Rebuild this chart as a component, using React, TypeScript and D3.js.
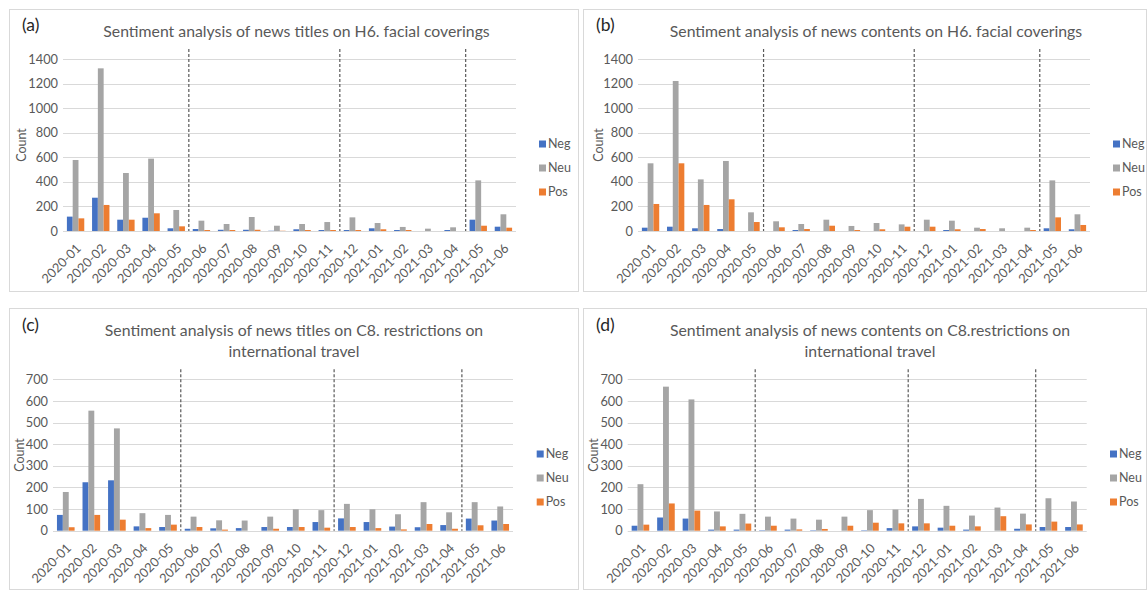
import React from 'react';
import * as d3 from 'd3';

const categories = ['2020-01','2020-02','2020-03','2020-04','2020-05','2020-06','2020-07','2020-08','2020-09','2020-10','2020-11','2020-12','2021-01','2021-02','2021-03','2021-04','2021-05','2021-06'];
const seriesNames = ['Neg','Neu','Pos'];
const seriesColors = ['#4472C4','#A5A5A5','#ED7D31'];
const dividerBefore = ['2020-06','2020-12','2021-05'];

// (a) titles, H6
const negA = [117,271,92,108,22,16,10,10,2,14,8,8,22,8,0,8,92,35];
const neuA = [578,1324,472,589,171,84,57,114,43,57,73,111,65,33,19,30,412,136];
const posA = [103,212,92,144,38,8,8,10,2,8,8,8,14,8,0,0,43,27];
// (b) contents, H6
const negB = [27,35,22,16,0,0,8,0,0,0,0,0,8,0,0,0,22,14];
const neuB = [551,1221,420,570,152,79,57,92,41,65,54,92,84,27,22,27,412,136];
const posB = [220,551,212,258,73,30,16,43,8,14,35,35,14,16,0,8,111,49];
// (c) titles, C8
const negC = [73,224,233,20,17,9,11,12,17,17,40,57,40,19,16,26,56,47];
const neuC = [179,555,473,81,73,65,48,47,65,99,95,124,99,76,132,85,132,112];
const posC = [16,73,51,12,28,17,5,0,9,17,14,17,12,6,31,9,25,31];
// (d) contents, C8
const negD = [23,61,56,5,5,2,5,2,0,2,12,20,14,5,0,9,17,17];
const neuD = [215,666,607,89,78,65,56,51,65,95,98,147,115,70,107,79,150,135];
const posD = [28,126,93,20,33,23,6,8,23,37,34,34,23,20,67,29,42,29];

const yTicksH6 = [0,200,400,600,800,1000,1200,1400];
const yTicksC8 = [0,100,200,300,400,500,600,700];

const FONT = 'Lato, "Open Sans", sans-serif';
const TEXT = '#595959';
const TICK_FS = 12.8;

type PanelProps = {
  frame: [number, number, number, number];
  plotX: [number, number];
  plotY: [number, number];
  ticks: number[];
  data: number[][];
  label: string;
  labelPos: [number, number];
  titleLines: string[];
  titleX: number;
  titleY: number;
  legendX: number;
  legendY: number;
  countX: number;
};

function Panel(p: PanelProps) {
  const [fx0, fy0, fx1, fy1] = p.frame;
  const x0 = d3.scaleBand<string>().domain(categories).range(p.plotX).padding(0);
  const bw = x0.bandwidth();
  const gw = bw * 0.69;
  const x1 = d3.scaleBand<string>().domain(seriesNames).range([0, gw]).padding(0);
  const yMax = p.ticks[p.ticks.length - 1];
  const y = d3.scaleLinear().domain([0, yMax]).range([p.plotY[1], p.plotY[0]]);
  const axisY = y(0);
  return (
    <g>
      <rect x={fx0 + 0.5} y={fy0 + 0.5} width={fx1 - fx0} height={fy1 - fy0} fill="#fff" stroke="#D9D9D9" strokeWidth={1} />
      <text x={p.labelPos[0]} y={p.labelPos[1]} fontFamily={FONT} fontSize={17.5} fill="#262626">{p.label}</text>
      {p.titleLines.map((t, i) => (
        <text key={i} x={p.titleX} y={p.titleY + i * 20.5} textAnchor="middle" fontFamily={FONT} fontSize={15.8} fill={TEXT}>{t}</text>
      ))}
      {p.ticks.map((t) => (
        <g key={t}>
          <line x1={p.plotX[0]} x2={p.plotX[1]} y1={Math.round(y(t)) + 0.5} y2={Math.round(y(t)) + 0.5} stroke="#D9D9D9" strokeWidth={1.2} />
          <text x={p.plotX[0] - 5} y={y(t)} dy="0.36em" textAnchor="end" fontFamily={FONT} fontSize={TICK_FS} fill={TEXT}>{t}</text>
        </g>
      ))}
      <text transform={`translate(${p.countX},${(p.plotY[0] + p.plotY[1]) / 2}) rotate(-90)`} textAnchor="middle" dy="0.35em" fontFamily={FONT} fontSize={12.5} fill={TEXT}>Count</text>
      {categories.map((c, i) => (
        <g key={c}>
          {seriesNames.map((s, j) => {
            const v = p.data[j][i];
            const bx = (x0(c) as number) + (bw - gw) / 2 + (x1(s) as number);
            return <rect key={s} x={bx} y={y(v)} width={x1.bandwidth()} height={axisY - y(v)} fill={seriesColors[j]} />;
          })}
          <text transform={`translate(${(x0(c) as number) + bw / 2 + 3},${axisY + 15}) rotate(-45)`} textAnchor="end" dy="0.35em" fontFamily={FONT} fontSize={TICK_FS} fill={TEXT}>{c}</text>
        </g>
      ))}
      {dividerBefore.map((c) => (
        <line key={c} x1={x0(c) as number} x2={x0(c) as number} y1={y(yMax) - 10} y2={axisY} stroke="#595959" strokeWidth={1.2} strokeDasharray="3,2" />
      ))}
      {seriesNames.map((s, j) => (
        <g key={s}>
          <rect x={p.legendX} y={p.legendY + j * 24 - 3.5} width={7} height={7} fill={seriesColors[j]} />
          <text x={p.legendX + 9} y={p.legendY + j * 24} dy="0.35em" fontFamily={FONT} fontSize={12.5} fill={TEXT}>{s}</text>
        </g>
      ))}
    </g>
  );
}

export default function App() {
  return (
    <svg width={1147} height={590} style={{ position: 'absolute', left: 0, top: 0, background: '#fff' }}>
      <rect x={0} y={0} width={1147} height={590} fill="#fff" />
      <Panel frame={[9, 9, 578, 291]} plotX={[63, 516]} plotY={[59, 231]} ticks={yTicksH6}
        data={[negA, neuA, posA]} label="(a)" labelPos={[22, 31]}
        titleLines={['Sentiment analysis of news titles on H6. facial coverings']} titleX={296.5} titleY={37}
        legendX={539} legendY={144} countX={21.7} />
      <Panel frame={[583, 9, 1146, 291]} plotX={[638, 1090]} plotY={[59, 231]} ticks={yTicksH6}
        data={[negB, neuB, posB]} label="(b)" labelPos={[596, 31]}
        titleLines={['Sentiment analysis of news contents on H6. facial coverings']} titleX={876} titleY={37}
        legendX={1113} legendY={144} countX={598.3} />
      <Panel frame={[9, 308, 578, 589]} plotX={[53, 513]} plotY={[379.3, 530.7]} ticks={yTicksC8}
        data={[negC, neuC, posC]} label="(c)" labelPos={[22, 331]}
        titleLines={['Sentiment analysis of news titles on C8. restrictions on', 'international travel']} titleX={294} titleY={336}
        legendX={536.7} legendY={454} countX={20} />
      <Panel frame={[583, 308, 1146, 589]} plotX={[627.7, 1086.7]} plotY={[379.3, 530.7]} ticks={yTicksC8}
        data={[negD, neuD, posD]} label="(d)" labelPos={[596, 331]}
        titleLines={['Sentiment analysis of news contents on C8.restrictions on', 'international travel']} titleX={870} titleY={336}
        legendX={1110} legendY={454} countX={593.3} />
    </svg>
  );
}
